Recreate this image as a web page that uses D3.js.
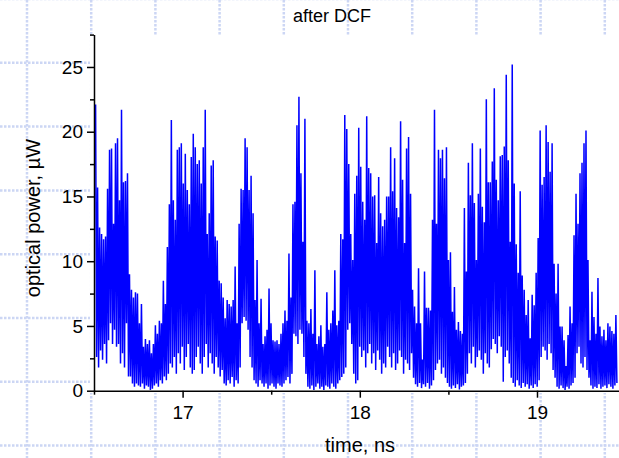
<script src="https://d3js.org/d3.v7.min.js"></script>
<style>
    body { background: #fff; margin: 0; font-family: "Liberation Sans", Arial, sans-serif; }
    svg { display: block; }
</style>

<svg width="619" height="458"></svg>

<script>
    // time axis of the trace (ns): start and step of the sampled envelope
    const tStart = 16.509, tStep = 0.01125;
    // upper spike values per sample, µW
    const peakPower = [
        22.1, 15.7, 12.6, 12.1, 11.7, 11.9, 15.6, 18.6, 18.7, 12.9, 19.1, 19.5, 14.7, 21.7, 16.1, 16.2, 16.8, 9.0, 7.8, 7.2,
        7.6, 7.5, 5.2, 6.7, 3.4, 4.0, 3.6, 3.9, 2.9, 3.6, 5.05, 4.4, 5.4, 5.2, 8.5, 6.7, 11.1, 14.4, 20.9, 14.7,
        13.2, 18.6, 18.8, 19.1, 16.0, 18.3, 15.5, 14.4, 18.05, 19.85, 18.8, 17.5, 17.8, 16.0, 18.8, 21.7, 12.1, 13.7, 17.4, 17.8,
        11.9, 11.6, 8.5, 8.3, 7.2, 5.6,
        7.0, 6.7, 6.5, 7.0, 9.6, 5.2, 12.9, 15.6, 15.5, 19.5, 18.8, 15.5, 16.6, 13.7, 7.0, 10.1, 5.2, 7.1, 3.6, 4.2,
        4.7, 7.9, 5.2, 3.9, 3.8, 3.9, 3.6, 4.4, 5.2, 6.2, 5.4, 10.6, 7.2, 14.4, 14.6, 20.5, 22.7, 16.8, 11.5, 21.0,
        5.4, 5.2, 6.3, 4.4, 9.3, 3.6, 4.2, 5.05, 3.4, 3.6, 7.6, 4.7, 5.2, 6.2, 9.3, 5.05, 5.4, 12.1, 11.7, 21.3,
        20.2, 17.5, 12.1, 10.1, 15.2, 16.6,
        20.3, 17.3, 14.6, 13.2, 21.2, 17.2, 16.8, 15.0, 15.1, 11.4, 16.5, 13.7, 12.7, 13.2, 15.0, 15.0, 18.8, 15.4, 17.95, 14.1,
        13.4, 20.8, 16.3, 11.4, 18.7, 19.6, 15.2, 7.8, 6.5, 5.2, 9.45, 5.2, 2.4, 9.2, 6.4, 6.4, 6.2, 13.2, 21.7, 12.9,
        18.6, 17.95, 18.6, 16.4, 18.8, 10.1, 10.7, 6.1, 8.0, 4.7, 5.3, 4.6, 4.4, 14.1, 9.2, 17.6, 15.1, 19.1, 14.5, 10.1,
        15.2, 18.7, 14.2, 13.0, 22.5, 16.1,
        16.1, 17.7, 23.35, 16.3, 14.7, 18.1, 18.2, 18.85, 24.4, 17.8, 11.5, 25.2, 16.0, 11.3, 9.1, 15.4, 8.9, 7.8, 5.85, 7.0,
        4.05, 7.4, 6.6, 9.1, 11.8, 20.1, 15.9, 16.5, 20.5, 19.2, 16.9, 19.1, 9.8, 7.5, 9.8, 4.95, 4.95, 3.9, 1.9, 4.3,
        6.5, 5.2, 12.0, 15.2, 12.9, 16.8, 17.6, 19.1, 20.1, 10.1, 3.9, 7.65, 5.7, 4.4, 8.7, 4.95, 4.2, 4.7, 3.9, 5.2,
        4.95, 4.6, 4.4, 5.85
    ];
    // lower values between spikes, µW
    const troughPower = [
        2.6, 1.8, 3.1, 2.4, 3.6, 2.1, 3.9, 5.2, 3.6, 4.7, 3.4, 3.6, 2.1, 2.9, 1.8, 5.2, 1.1, 1.1, 0.55, 0.3,
        0.55, 0.4, 0.3, 0.55, 0.15, 0.4, 0.3, 0.05, 0.15, 0.4, 0.55, 0.3, 0.8, 0.55, 1.1, 0.8, 1.3, 2.1, 1.8, 2.6,
        1.3, 2.9, 2.1, 3.4, 1.6, 2.6, 3.6, 1.8, 1.3, 1.6, 2.6, 3.4, 2.1, 1.3, 2.6, 3.6, 1.8, 2.9, 2.1, 1.3,
        2.6, 1.8, 1.1, 1.6, 0.55, 0.4,
        0.8, 0.55, 1.06, 0.3, 0.8, 0.55, 1.8, 5.2, 5.7, 5.4, 4.7, 2.6, 1.8, 0.8, 0.55, 0.3, 0.8, 0.55, 0.3, 0.55,
        0.15, 0.4, 0.55, 0.3, 0.15, 0.55, 0.4, 0.3, 0.55, 0.8, 1.06, 0.55, 1.3, 4.4, 4.2, 3.6, 4.7, 4.4, 2.6, 1.3,
        0.3, 0.15, 0.4, 0.05, 0.3, 0.55, 0.15, 0.3, 0.05, 0.4, 0.3, 0.15, 0.55, 0.3, 0.15, 0.55, 0.8, 1.06, 1.3, 1.8,
        4.7, 5.2, 3.6, 1.3, 0.55, 0.8,
        3.4, 2.6, 3.1, 1.8, 2.9, 3.6, 2.1, 2.9, 1.6, 3.1, 2.4, 1.3, 2.1, 1.8, 3.4, 2.6, 1.8, 2.9, 1.6, 2.1,
        3.1, 2.6, 1.3, 2.4, 2.1, 1.6, 2.9, 1.0, 0.5, 0.3, 0.6, 0.2, 0.5, 0.3, 0.6, 0.15, 0.4, 0.8, 1.6, 2.1,
        2.4, 1.3, 1.8, 1.0, 0.6, 0.3, 0.15, 0.4, 0.2, 0.5, 0.1, 0.3, 0.4, 0.6, 1.3, 2.9, 2.1, 3.4, 1.8, 2.6,
        3.1, 2.4, 1.3, 2.9, 2.1, 1.8,
        3.2, 4.0, 3.6, 2.9, 4.2, 3.4, 0.7, 2.6, 3.1, 2.1, 1.0, 0.6, 0.3, 0.8, 0.4, 0.2, 0.6, 0.3, 0.5, 0.15,
        0.4, 0.2, 0.5, 0.3, 0.8, 2.6, 3.4, 3.1, 2.4, 3.6, 2.9, 1.6, 1.0, 0.3, 0.15, 0.4, 0.2, 0.05, 0.3, 0.15,
        0.4, 0.6, 1.0, 2.9, 3.4, 2.1, 1.8, 2.6, 1.6, 1.0, 0.4, 0.15, 0.3, 0.2, 0.5, 0.15, 0.3, 0.4, 0.2, 0.5,
        0.3, 0.15, 0.4, 0.6
    ];
    const xMajor = [17, 18, 19], xMinor = [16.5, 17.5, 18.5, 19.5];
    const yMajor = [0, 5, 10, 15, 20, 25], yMinor = [2.5, 7.5, 12.5, 17.5, 22.5, 27.5];

    const svg = d3.select("svg");
    const W = 619, H = 458;

    // slide background: dotted grid
    const grid = svg.append("g").attr("stroke", "#ccd6f4").attr("stroke-width", 2.5)
        .attr("stroke-dasharray", "2.5,1.5");
    d3.range(8).forEach(i => grid.append("line")
        .attr("x1", 0).attr("x2", W).attr("y1", -1 + i * 63.8).attr("y2", -1 + i * 63.8));
    d3.range(10).forEach(i => grid.append("line")
        .attr("y1", 0).attr("y2", H).attr("x1", 27 + i * 64.2).attr("x2", 27 + i * 64.2));

    // white chart frame
    svg.append("rect").attr("x", 90).attr("y", 35).attr("width", W - 90).attr("height", 358).attr("fill", "#fff");

    const x = d3.scaleLinear().domain([16.5, 19.5]).range([94, 94 + 3 * 177.2]);
    const y = d3.scaleLinear().domain([0, 27.5]).range([390.7, 34.6]);

    svg.append("clipPath").attr("id", "clip").append("rect")
        .attr("x", 94).attr("y", 0).attr("width", W - 94).attr("height", 391);

    // trace
    const samples = [];
    peakPower.forEach((p, i) => {
        samples.push({ t: tStart + i * tStep, v: p });
        samples.push({ t: tStart + (i + 0.5) * tStep, v: troughPower[i] });
    });
    svg.append("path")
        .datum(samples)
        .attr("clip-path", "url(#clip)")
        .attr("fill", "none")
        .attr("stroke", "#0000ff")
        .attr("stroke-width", 1.5)
        .attr("stroke-linejoin", "bevel")
        .attr("d", d3.line().x(d => x(d.t)).y(d => y(d.v)));

    // axes
    const fontSize = "19px";
    const gx = svg.append("g").attr("transform", "translate(0,390.7)")
        .call(d3.axisBottom(x).tickValues(xMajor).tickSize(7).tickSizeOuter(0).tickPadding(8).tickFormat(d3.format("d")));
    gx.append("g").call(d3.axisBottom(x).tickValues(xMinor).tickSize(4).tickSizeOuter(0).tickFormat(""))
        .select(".domain").remove();
    const gy = svg.append("g").attr("transform", "translate(94,0)")
        .call(d3.axisLeft(y).tickValues(yMajor).tickSize(7).tickSizeOuter(0).tickPadding(4).tickFormat(d3.format("d")));
    gy.append("g").call(d3.axisLeft(y).tickValues(yMinor).tickSize(4).tickSizeOuter(0).tickFormat(""))
        .select(".domain").remove();
    [gx, gy].forEach(g => {
        g.selectAll("path, line").attr("stroke", "#000").attr("stroke-width", 1.5);
        g.selectAll("text").attr("fill", "#000").style("font-size", fontSize)
            .style("font-family", "'Liberation Sans', Arial, sans-serif");
    });

    // labels
    svg.append("text").attr("x", 332).attr("y", 22).attr("text-anchor", "middle")
        .style("font-size", "18px").text("after DCF");
    svg.append("text").attr("x", 360).attr("y", 452).attr("text-anchor", "middle")
        .style("font-size", "20px").text("time, ns");
    svg.append("text").attr("transform", "translate(40,218) rotate(-90)").attr("text-anchor", "middle")
        .style("font-size", "20px").text("optical power, µW");
</script>
